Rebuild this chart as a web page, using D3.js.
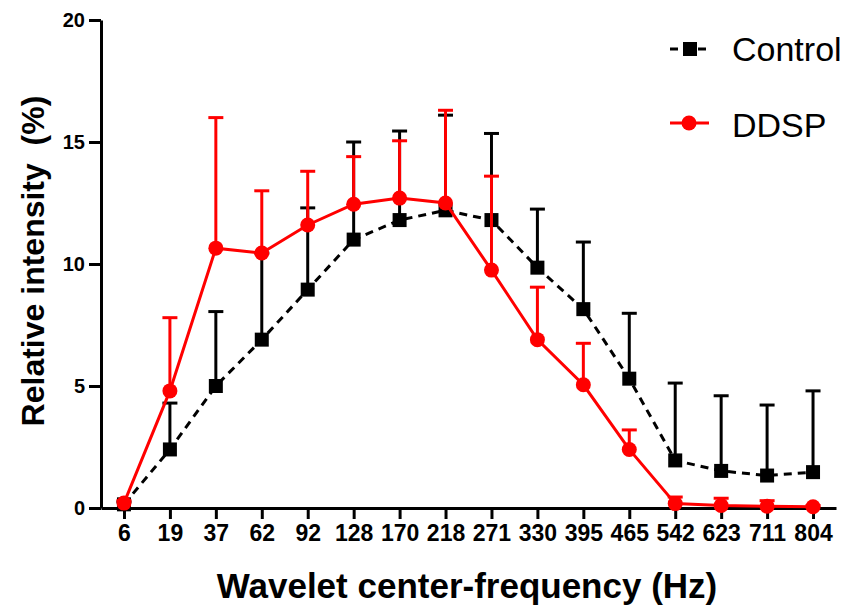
<!DOCTYPE html>
<html><head><meta charset="utf-8">
<script src="https://cdn.jsdelivr.net/npm/d3@7"></script>
<style>
html,body{margin:0;padding:0;background:#fff;}
svg{display:block;}
</style></head>
<body>
<svg id="chart" width="846" height="607"></svg>
<script>
const categories = ['6','19','37','62','92','128','170','218','271','330','395','465','542','623','711','804'];
const controlMean = [0.15, 2.4, 5.0, 6.9, 8.95, 11.0, 11.8, 12.2, 11.8, 9.85, 8.15, 5.3, 1.95, 1.52, 1.33, 1.47];
const controlErr  = [0.1, 1.9, 3.05, 3.55, 3.35, 4.0, 3.65, 3.9, 3.55, 2.4, 2.75, 2.68, 3.17, 3.08, 2.89, 3.33];
const ddspMean = [0.2, 4.8, 10.65, 10.45, 11.6, 12.45, 12.7, 12.5, 9.75, 6.9, 5.05, 2.4, 0.18, 0.1, 0.07, 0.05];
const ddspErr  = [0.1, 3.0, 5.35, 2.55, 2.2, 1.95, 2.35, 3.8, 3.85, 2.15, 1.7, 0.8, 0.27, 0.3, 0.23, 0.05];
const yTicks = [0, 5, 10, 15, 20];
const seriesNames = ['Control', 'DDSP'];
const xTitle = 'Wavelet center-frequency (Hz)';
const yTitle = 'Relative intensity\u00a0\u00a0(%)';

(function () {
const svg = d3.select('#chart');
const mLeft = 101, mRight = 836, mTop = 20, mBottom = 508;
const x = d3.scalePoint().domain(categories).range([mLeft, mRight]).padding(0.5);
const y = d3.scaleLinear().domain([0, 20]).range([mBottom, mTop]);
const font = 'Liberation Sans, Arial, Helvetica, sans-serif';

// axes
const xAxis = svg.append('g').attr('transform', `translate(0,${mBottom})`)
  .call(d3.axisBottom(x).tickSize(11).tickPadding(6).tickSizeOuter(0));
xAxis.select('.domain').attr('stroke', '#000').attr('stroke-width', 3);
xAxis.selectAll('.tick line').attr('stroke', '#000').attr('stroke-width', 3);
xAxis.selectAll('.tick text').attr('font-family', font).attr('font-size', 23)
  .attr('font-weight', 'bold').attr('fill', '#000');

const yAxis = svg.append('g').attr('transform', `translate(${mLeft},0)`)
  .call(d3.axisLeft(y).tickValues(yTicks).tickSize(12).tickPadding(4).tickSizeOuter(0));
yAxis.select('.domain').attr('stroke', '#000').attr('stroke-width', 3);
yAxis.selectAll('.tick line').attr('stroke', '#000').attr('stroke-width', 3);
yAxis.selectAll('.tick text').attr('font-family', font).attr('font-size', 20)
  .attr('font-weight', 'bold').attr('fill', '#000');

// titles
svg.append('text').attr('x', 467).attr('y', 598).attr('text-anchor', 'middle')
  .attr('font-family', font).attr('font-size', 35).attr('font-weight', 'bold').text(xTitle);
svg.append('text').attr('transform', 'translate(44,261) rotate(-90)').attr('text-anchor', 'middle')
  .attr('font-family', font).attr('font-size', 32).attr('font-weight', 'bold').text(yTitle);

function drawSeries(mean, err, color, dashed, marker) {
  const g = svg.append('g');
  const data = categories.map((c, i) => ({c, m: mean[i], e: err[i]}));
  g.selectAll('line.eb').data(data).join('line')
    .attr('x1', d => x(d.c)).attr('x2', d => x(d.c))
    .attr('y1', d => y(d.m)).attr('y2', d => y(d.m + d.e))
    .attr('stroke', color).attr('stroke-width', 3);
  g.selectAll('line.cap').data(data).join('line')
    .attr('x1', d => x(d.c) - 7.5).attr('x2', d => x(d.c) + 7.5)
    .attr('y1', d => y(d.m + d.e)).attr('y2', d => y(d.m + d.e))
    .attr('stroke', color).attr('stroke-width', 3);
  const line = d3.line().x(d => x(d.c)).y(d => y(d.m));
  g.append('path').datum(data).attr('d', line).attr('fill', 'none')
    .attr('stroke', color).attr('stroke-width', 3)
    .attr('stroke-dasharray', dashed ? '8,6' : null);
  if (marker === 'square') {
    g.selectAll('rect.m').data(data).join('rect')
      .attr('x', d => x(d.c) - 7).attr('y', d => y(d.m) - 7)
      .attr('width', 14).attr('height', 14).attr('fill', color);
  } else {
    g.selectAll('circle.m').data(data).join('circle')
      .attr('cx', d => x(d.c)).attr('cy', d => y(d.m)).attr('r', 7.5).attr('fill', color);
  }
}
drawSeries(controlMean, controlErr, '#000', true, 'square');
drawSeries(ddspMean, ddspErr, '#ff0000', false, 'circle');

// legend
const lg = svg.append('g');
lg.append('line').attr('x1', 670).attr('x2', 711).attr('y1', 49).attr('y2', 49)
  .attr('stroke', '#000').attr('stroke-width', 3).attr('stroke-dasharray', '8,6');
lg.append('rect').attr('x', 683).attr('y', 42).attr('width', 14).attr('height', 14).attr('fill', '#000');
lg.append('text').attr('x', 732).attr('y', 61).attr('font-family', font).attr('font-size', 34).text(seriesNames[0]);
lg.append('line').attr('x1', 670).attr('x2', 709).attr('y1', 123).attr('y2', 123)
  .attr('stroke', '#ff0000').attr('stroke-width', 3);
lg.append('circle').attr('cx', 689).attr('cy', 123).attr('r', 7.5).attr('fill', '#ff0000');
lg.append('text').attr('x', 732).attr('y', 137).attr('font-family', font).attr('font-size', 34).text(seriesNames[1]);
})();
</script>
</body></html>
